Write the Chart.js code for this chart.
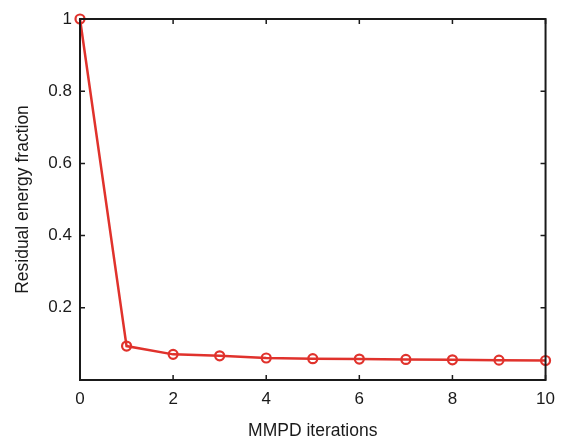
<!DOCTYPE html>
<html>
<head>
<meta charset="utf-8">
<script src="https://cdn.jsdelivr.net/npm/chart.js@4"></script>
<style>
  html, body { margin: 0; padding: 0; background: #fff; }
  #wrap { width: 564px; height: 436px; }
</style>
</head>
<body>
<div id="wrap"><canvas id="residualChart" width="564" height="436"></canvas></div>
<script>
const iterations = [0, 1, 2, 3, 4, 5, 6, 7, 8, 9, 10];
const residual = [1.0, 0.094, 0.071, 0.067, 0.061, 0.059, 0.058, 0.057, 0.056, 0.055, 0.054];
const xTicks = [0, 2, 4, 6, 8, 10];
const yTicks = [0.2, 0.4, 0.6, 0.8, 1];

const lineColor = "#e0322c";
const axisColor = "#1a1a1a";
const fontFamily = "Liberation Sans, Arial, sans-serif";

// box round the plot with inward ticks on all four sides
const boxPlugin = {
    id: "box",
    afterDatasetsDraw(chart) {
        const ctx = chart.ctx;
        const a = chart.chartArea;
        const xs = chart.scales.x;
        const ys = chart.scales.y;
        const len = 5;
        ctx.save();
        ctx.strokeStyle = axisColor;
        ctx.lineWidth = 2;
        ctx.strokeRect(a.left, a.top, a.right - a.left, a.bottom - a.top);
        ctx.lineWidth = 1.5;
        ctx.beginPath();
        xTicks.forEach(v => {
            const px = xs.getPixelForValue(v);
            ctx.moveTo(px, a.bottom); ctx.lineTo(px, a.bottom - len);
            ctx.moveTo(px, a.top); ctx.lineTo(px, a.top + len);
        });
        yTicks.forEach(v => {
            const py = ys.getPixelForValue(v);
            ctx.moveTo(a.left, py); ctx.lineTo(a.left + len, py);
            ctx.moveTo(a.right, py); ctx.lineTo(a.right - len, py);
        });
        ctx.stroke();
        ctx.restore();
    }
};

new Chart(document.getElementById("residualChart"), {
    type: "line",
    data: {
        datasets: [
            {
                data: iterations.map((x, i) => ({ x: x, y: residual[i] })),
                borderColor: lineColor,
                borderWidth: 2.5,
                pointStyle: "circle",
                pointRadius: 4.5,
                pointBorderWidth: 2.2,
                pointBorderColor: lineColor,
                pointBackgroundColor: "rgba(255,255,255,0)",
                tension: 0,
                clip: false
            }
        ]
    },
    options: {
        responsive: false,
        animation: false,
        layout: {
            padding: { top: 19, right: 18, left: 0, bottom: 0 }
        },
        plugins: {
            legend: { display: false },
            tooltip: { enabled: false }
        },
        scales: {
            x: {
                type: "linear",
                min: 0,
                max: 10,
                afterFit(scale) { scale.height = 56; },
                afterBuildTicks(scale) { scale.ticks = xTicks.map(v => ({ value: v })); },
                grid: { display: false, drawTicks: false },
                border: { display: false },
                ticks: {
                    padding: 9,
                    color: axisColor,
                    font: { family: fontFamily, size: 17 },
                    maxRotation: 0
                },
                title: {
                    display: true,
                    text: "MMPD iterations",
                    color: axisColor,
                    padding: { top: 0, bottom: -6 },
                    font: { family: fontFamily, size: 17.5 }
                }
            },
            y: {
                type: "linear",
                min: 0,
                max: 1,
                afterFit(scale) { scale.width = 80; },
                afterBuildTicks(scale) { scale.ticks = yTicks.map(v => ({ value: v })); },
                grid: { display: false, drawTicks: false },
                border: { display: false },
                ticks: {
                    padding: 8,
                    color: axisColor,
                    font: { family: fontFamily, size: 17 },
                    callback: v => String(Math.round(v * 10) / 10)
                },
                title: {
                    display: true,
                    text: "Residual energy fraction",
                    color: axisColor,
                    padding: { top: 13, bottom: 0 },
                    font: { family: fontFamily, size: 17.5 }
                }
            }
        }
    },
    plugins: [boxPlugin]
});
</script>
</body>
</html>
